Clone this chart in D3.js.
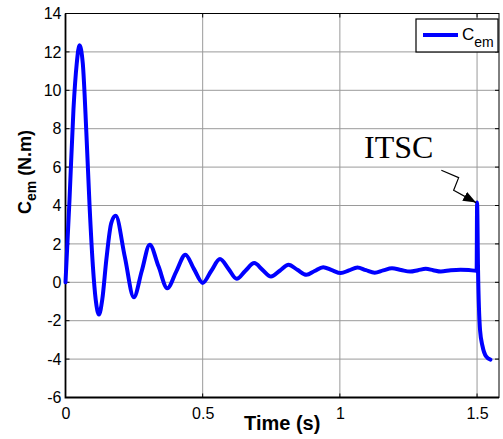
<!DOCTYPE html>
<html>
<head>
<meta charset="utf-8">
<script src="https://cdn.jsdelivr.net/npm/d3@7"></script>
<style>
  body { margin: 0; background: #fff; }
  svg { display: block; }
</style>
</head>
<body>
<div id="chart"></div>
<script>
// electromagnetic torque vs time
const time = [0, 0.0146, 0.029, 0.041, 0.051, 0.063, 0.076, 0.088, 0.100, 0.110, 0.122, 0.134, 0.149, 0.167, 0.183,
  0.216, 0.249, 0.278, 0.307, 0.339, 0.371, 0.404, 0.437, 0.468, 0.500, 0.531, 0.563, 0.594, 0.624, 0.655, 0.688,
  0.718, 0.749, 0.781, 0.813, 0.845, 0.878, 0.908, 0.939, 0.971, 1.003, 1.033, 1.064, 1.095, 1.127, 1.158, 1.190,
  1.223, 1.256, 1.285, 1.313, 1.340, 1.368, 1.404, 1.440, 1.470, 1.497, 1.4985, 1.5002, 1.5037, 1.511, 1.520, 1.533, 1.549];
const cem = [0, 4.3, 9.0, 11.4, 12.35, 11.4, 7.8, 3.9, 0.8, -0.9, -1.68, -0.9, 1.2, 3.1, 3.46,
  1.34, -0.78, 0.59, 1.96, 0.83, -0.31, 0.57, 1.44, 0.70, -0.03, 0.59, 1.21, 0.70, 0.18, 0.59, 1.0,
  0.65, 0.30, 0.60, 0.91, 0.65, 0.39, 0.59, 0.79, 0.63, 0.48, 0.62, 0.77, 0.63, 0.50, 0.62, 0.73,
  0.64, 0.56, 0.63, 0.70, 0.63, 0.56, 0.63, 0.66, 0.64, 0.60, 0.62, 4.15, 0.6, -2.5, -3.33, -3.86, -4.03];

const xTicks = [0, 0.5, 1, 1.5];
const yTicks = [-6, -4, -2, 0, 2, 4, 6, 8, 10, 12, 14];
const legendName = "C", legendSub = "em";
const noteText = "ITSC";
const noteAt = [1.5, 4.15];

const width = 503, height = 439;
const pl = 65.5, pr = 499, pt = 13.5, pb = 397.5;

const svg = d3.select("#chart").append("svg")
    .attr("width", width)
    .attr("height", height);

const x = d3.scaleLinear().domain([0, 1.58]).range([pl, pr]);
const y = d3.scaleLinear().domain([-6, 14]).range([pb, pt]);

// grid
const grid = svg.append("g").attr("stroke", "#9a9a9a").attr("stroke-width", 1);
grid.selectAll(".gx").data(xTicks.slice(1)).join("line")
    .attr("x1", d => x(d)).attr("x2", d => x(d))
    .attr("y1", pt).attr("y2", pb);
grid.selectAll(".gy").data(yTicks.slice(1, -1)).join("line")
    .attr("x1", pl).attr("x2", pr)
    .attr("y1", d => y(d)).attr("y2", d => y(d));

// tick labels
const fmt = d => String(d);
svg.append("g")
    .attr("transform", `translate(0,${pb})`)
    .call(d3.axisBottom(x).tickValues(xTicks).tickFormat(fmt).tickSize(0).tickPadding(10))
    .call(g => g.select(".domain").remove())
    .selectAll("text")
    .attr("font-family", "'Liberation Sans', Arial, sans-serif")
    .attr("font-size", 16)
    .attr("fill", "#000");

svg.append("g")
    .attr("transform", `translate(${pl},0)`)
    .call(d3.axisLeft(y).tickValues(yTicks).tickFormat(fmt).tickSize(0).tickPadding(4))
    .call(g => g.select(".domain").remove())
    .selectAll("text")
    .attr("font-family", "'Liberation Sans', Arial, sans-serif")
    .attr("font-size", 16)
    .attr("fill", "#000");

// inward ticks on all four sides
const tk = svg.append("g").attr("stroke", "#000").attr("stroke-width", 1);
xTicks.forEach(d => {
  tk.append("line").attr("x1", x(d)).attr("x2", x(d)).attr("y1", pb).attr("y2", pb - 4);
  tk.append("line").attr("x1", x(d)).attr("x2", x(d)).attr("y1", pt).attr("y2", pt + 4);
});
yTicks.forEach(d => {
  tk.append("line").attr("x1", pl).attr("x2", pl + 4).attr("y1", y(d)).attr("y2", y(d));
  tk.append("line").attr("x1", pr).attr("x2", pr - 4).attr("y1", y(d)).attr("y2", y(d));
});

// frame
svg.append("rect")
    .attr("x", pl).attr("y", pt)
    .attr("width", pr - pl).attr("height", pb - pt)
    .attr("fill", "none").attr("stroke", "#000").attr("stroke-width", 1);
svg.append("path")
    .attr("d", `M${pl},${pt}V${pb}H${pr}`)
    .attr("fill", "none").attr("stroke", "#000").attr("stroke-width", 1.8);

// the curve
const pts = time.map((t, i) => [t, cem[i]]);
const line = d3.line()
    .x(d => x(d[0]))
    .y(d => y(d[1]))
    .curve(d3.curveMonotoneX);

svg.append("path")
    .datum(pts)
    .attr("d", line)
    .attr("fill", "none")
    .attr("stroke", "#0000ff")
    .attr("stroke-width", 4)
    .attr("stroke-linejoin", "round")
    .attr("stroke-linecap", "round");

// axis titles
svg.append("text")
    .attr("x", (pl + pr) / 2)
    .attr("y", 430)
    .attr("text-anchor", "middle")
    .attr("font-family", "'Liberation Sans', Arial, sans-serif")
    .attr("font-weight", "bold")
    .attr("font-size", 20)
    .text("Time (s)");

const yl = svg.append("text")
    .attr("transform", "translate(31,172) rotate(-90)")
    .attr("text-anchor", "middle")
    .attr("font-family", "'Liberation Sans', Arial, sans-serif")
    .attr("font-weight", "bold")
    .attr("font-size", 18);
yl.append("tspan").text("C");
yl.append("tspan").attr("dy", 5).attr("font-size", 14).text("em");
yl.append("tspan").attr("dy", -5).text("\u00a0(N.m)");

// legend
const lg = svg.append("g");
lg.append("rect")
    .attr("x", 416).attr("y", 19).attr("width", 82).attr("height", 33)
    .attr("fill", "#fff").attr("stroke", "#000").attr("stroke-width", 1.2);
lg.append("line")
    .attr("x1", 423).attr("x2", 458).attr("y1", 35).attr("y2", 35)
    .attr("stroke", "#0000ff").attr("stroke-width", 4);
const lt = lg.append("text")
    .attr("x", 462).attr("y", 39.5)
    .attr("font-family", "'Liberation Sans', Arial, sans-serif")
    .attr("font-size", 17);
lt.append("tspan").text(legendName);
lt.append("tspan").attr("dy", 7).attr("font-size", 14).text(legendSub);

// ITSC annotation
svg.append("defs").append("marker")
    .attr("id", "head")
    .attr("markerUnits", "userSpaceOnUse")
    .attr("markerWidth", 13).attr("markerHeight", 10)
    .attr("refX", 13).attr("refY", 5)
    .attr("orient", "auto")
    .append("path").attr("d", "M0,0L13,5L0,10Z").attr("fill", "#000");

const tipX = x(noteAt[0]) - 1, tipY = y(noteAt[1]);
svg.append("path")
    .attr("d", `M${tipX - 34.7},${tipY - 32.4}L${tipX - 17.4},${tipY - 25}L${tipX - 22.4},${tipY - 12.4}L${tipX},${tipY}`)
    .attr("fill", "none")
    .attr("stroke", "#000")
    .attr("stroke-width", 1.2)
    .attr("marker-end", "url(#head)");

svg.append("text")
    .attr("x", 364)
    .attr("y", 158)
    .attr("font-family", "'Liberation Serif', 'Times New Roman', serif")
    .attr("font-size", 32)
    .text(noteText);
</script>
</body>
</html>
